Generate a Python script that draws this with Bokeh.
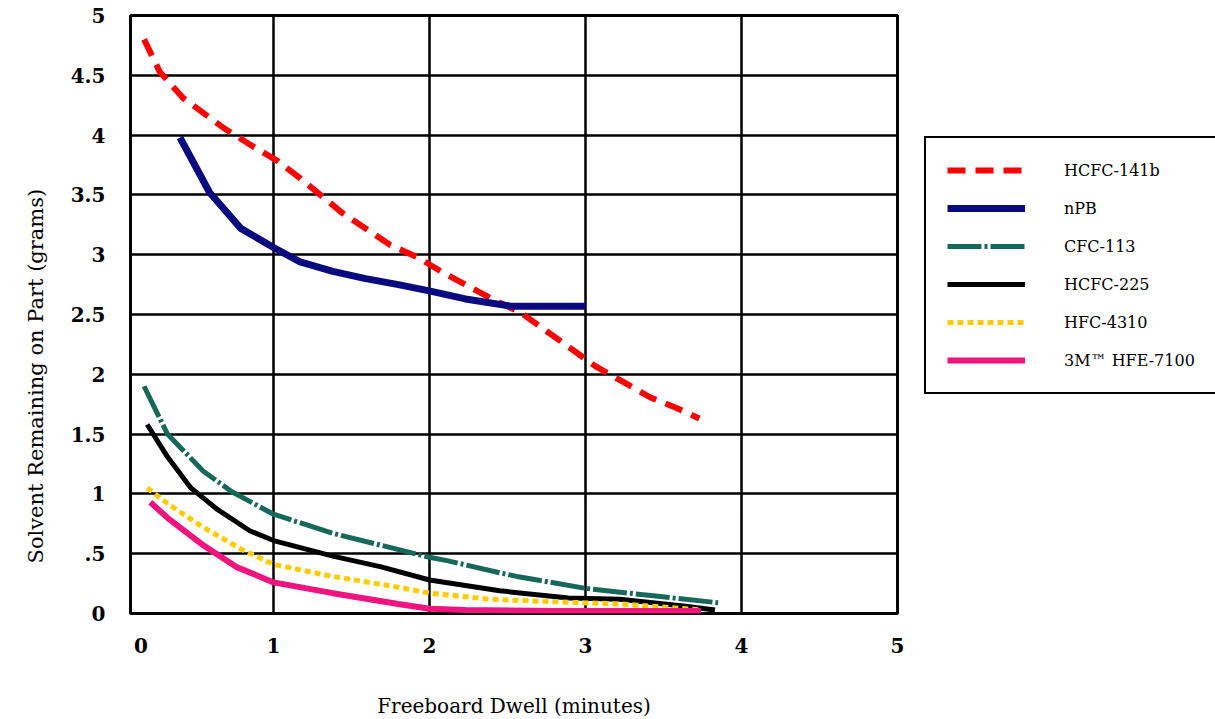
from bokeh.plotting import figure
from bokeh.models import Range1d, FixedTicker, Legend, LegendItem, Title
from bokeh.embed import file_html
from bokeh.resources import INLINE

# ---- data ----
series_names = ["HCFC-141b", "nPB", "CFC-113", "HCFC-225", "HFC-4310", "3M\u2122 HFE-7100"]

hcfc141b_x = [0.17, 0.27, 0.42, 0.68, 0.85, 1.03, 1.17, 1.44, 1.75, 1.92, 2.10, 2.43, 2.58, 2.88, 3.06, 3.25, 3.41, 3.58, 3.73]
hcfc141b_y = [4.80, 4.53, 4.31, 4.06, 3.92, 3.78, 3.64, 3.35, 3.08, 2.98, 2.84, 2.61, 2.52, 2.24, 2.07, 1.93, 1.81, 1.72, 1.63]

npb_x = [0.40, 0.59, 0.79, 1.00, 1.17, 1.38, 1.59, 1.80, 1.99, 2.23, 2.52, 3.00]
npb_y = [3.98, 3.52, 3.22, 3.06, 2.94, 2.86, 2.80, 2.75, 2.70, 2.63, 2.57, 2.57]

cfc113_x = [0.17, 0.32, 0.55, 0.73, 1.00, 1.38, 1.69, 2.00, 2.12, 2.45, 2.56, 3.00, 3.42, 3.85]
cfc113_y = [1.90, 1.50, 1.19, 1.02, 0.83, 0.67, 0.57, 0.47, 0.44, 0.34, 0.31, 0.21, 0.15, 0.09]

hcfc225_x = [0.19, 0.32, 0.47, 0.64, 0.85, 1.00, 1.38, 1.69, 2.00, 2.45, 2.89, 3.22, 3.64, 3.83]
hcfc225_y = [1.58, 1.31, 1.05, 0.87, 0.69, 0.61, 0.48, 0.39, 0.28, 0.19, 0.13, 0.12, 0.06, 0.03]

hfc4310_x = [0.19, 0.32, 0.55, 0.79, 1.00, 1.38, 1.80, 2.00, 2.38, 2.75, 3.22, 3.64, 3.74]
hfc4310_y = [1.05, 0.92, 0.72, 0.54, 0.41, 0.31, 0.22, 0.17, 0.12, 0.10, 0.08, 0.04, 0.03]

hfe7100_x = [0.21, 0.32, 0.55, 0.76, 1.00, 1.38, 1.80, 2.00, 2.23, 2.80, 3.74]
hfe7100_y = [0.93, 0.80, 0.57, 0.39, 0.26, 0.17, 0.08, 0.04, 0.03, 0.02, 0.02]

x_tick_pos = [0.15, 1, 2, 3, 4, 5]
x_tick_labels = ["0", "1", "2", "3", "4", "5"]
y_tick_pos = [0, 0.5, 1, 1.5, 2, 2.5, 3, 3.5, 4, 4.5, 5]
y_tick_labels = ["0", ".5", "1", "1.5", "2", "2.5", "3", "3.5", "4", "4.5", "5"]

x_title = "Freeboard Dwell (minutes)"
y_title = "Solvent Remaining on Part (grams)"

# ---- figure ----
p = figure(frame_width=767, frame_height=598,
           x_range=Range1d(0.083, 5), y_range=Range1d(0, 5),
           output_backend="svg", toolbar_location=None,
           min_border_left=130, min_border_right=100,
           min_border_top=15, min_border_bottom=106)
p.background_fill_color = "white"
p.border_fill_color = "white"
p.outline_line_color = "black"
p.outline_line_width = 3
p.outline_line_alpha = 1.0

for ax in (p.xaxis[0], p.yaxis[0]):
    ax.axis_line_color = None
    ax.major_tick_line_color = None
    ax.minor_tick_line_color = None
    ax.major_label_text_font = "DejaVu Serif"
    ax.major_label_text_font_style = "bold"
    ax.major_label_text_font_size = "20px"
    ax.major_label_text_color = "black"

p.xaxis.ticker = FixedTicker(ticks=x_tick_pos)
p.xaxis.major_label_overrides = {t: l for t, l in zip(x_tick_pos, x_tick_labels)}
p.xaxis.major_label_standoff = 18
p.yaxis.ticker = FixedTicker(ticks=y_tick_pos)
p.yaxis.major_label_overrides = {t: l for t, l in zip(y_tick_pos, y_tick_labels)}
p.yaxis.major_label_standoff = 19

p.xaxis.axis_label = x_title
p.xaxis.axis_label_text_font = "DejaVu Serif"
p.xaxis.axis_label_text_font_style = "normal"
p.xaxis.axis_label_text_font_size = "20px"
p.xaxis.axis_label_text_color = "black"
p.xaxis.axis_label_standoff = 38

p.xgrid.ticker = FixedTicker(ticks=[1, 2, 3, 4])
p.ygrid.ticker = FixedTicker(ticks=[0.5, 1, 1.5, 2, 2.5, 3, 3.5, 4, 4.5])
for g in (p.xgrid[0], p.ygrid[0]):
    g.grid_line_color = "black"
    g.grid_line_width = 2.5
    g.grid_line_alpha = 1.0

# ---- series ----
r1 = p.line(hcfc141b_x, hcfc141b_y, line_color="#FF0000", line_width=6, line_dash="18 10")
r2 = p.line(npb_x, npb_y, line_color="#0A0A80", line_width=7)
r3 = p.line(cfc113_x, cfc113_y, line_color="#16685A", line_width=5, line_dash="34 3 3 3")
r4 = p.line(hcfc225_x, hcfc225_y, line_color="black", line_width=5)
r5 = p.line(hfc4310_x, hfc4310_y, line_color="#FFCC00", line_width=5, line_dash="6 4")
r6 = p.line(hfe7100_x, hfe7100_y, line_color="#F0147F", line_width=6)

legend = Legend(items=[LegendItem(label=n, renderers=[r]) for n, r in
                       zip(series_names, [r1, r2, r3, r4, r5, r6])],
                location=(27, 219))
legend.border_line_color = "black"
legend.border_line_width = 2.5
legend.border_line_alpha = 1.0
legend.background_fill_color = "white"
legend.background_fill_alpha = 1
legend.padding = 21
legend.spacing = 16
legend.glyph_width = 78
legend.glyph_height = 22
legend.label_height = 22
legend.label_standoff = 39
legend.label_text_font = "DejaVu Serif"
legend.label_text_font_size = "16px"
legend.label_text_color = "black"
legend.margin = 0
p.add_layout(legend, "right")

ytitle = Title(text=y_title, align="left", offset=50, standoff=40,
               text_font="DejaVu Serif", text_font_size="21px",
               text_font_style="normal", text_color="black")
p.add_layout(ytitle, "left")

open("out.html", "w").write(file_html(p, INLINE))
